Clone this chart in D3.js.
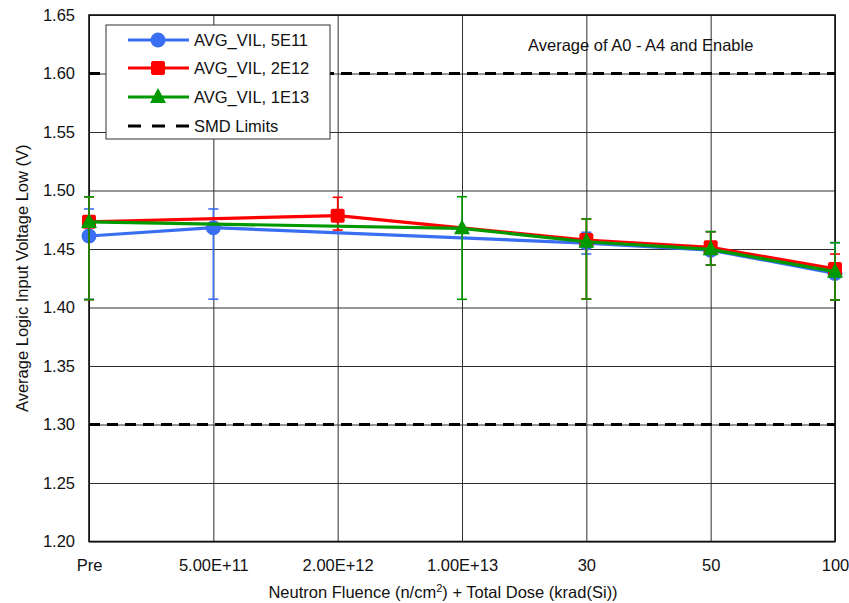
<!DOCTYPE html>
<html>
<head>
<meta charset="utf-8">
<script src="https://cdn.jsdelivr.net/npm/d3@7/dist/d3.min.js"></script>
<style>
  html, body { margin: 0; padding: 0; background: #fff; }
  svg { display: block; font-family: "Liberation Sans", Arial, sans-serif; }
</style>
</head>
<body>
<svg id="chart" width="849" height="603"></svg>
<script>
// Test points along the x axis
const categories = ["Pre", "5.00E+11", "2.00E+12", "1.00E+13", "30", "50", "100"];
const yTicks = [1.20, 1.25, 1.30, 1.35, 1.40, 1.45, 1.50, 1.55, 1.60, 1.65];
const smdLimits = [1.30, 1.60];

// Average VIL per fluence group (null = not measured at that point)
const vil5E11   = [1.4611, 1.4682, null, null, 1.4551, 1.4490, 1.4292];
const vil5E11Hi = [1.4842, 1.4842, null, null, 1.4643, 1.4648, 1.4554];
const vil5E11Lo = [1.4070, 1.4071, null, null, 1.4457, 1.4363, 1.4064];

const vil2E12   = [1.4733, null, 1.4785, null, 1.4577, 1.4515, 1.4330];
const vil2E12Hi = [1.4946, null, 1.4942, null, 1.4757, 1.4648, 1.4457];
const vil2E12Lo = [1.4067, null, 1.4662, null, 1.4072, 1.4363, 1.4064];

const vil1E13   = [1.4731, null, null, 1.4677, 1.4562, 1.4497, 1.4306];
const vil1E13Hi = [1.4946, null, null, 1.4947, 1.4757, 1.4648, 1.4554];
const vil1E13Lo = [1.4067, null, null, 1.4070, 1.4072, 1.4363, 1.4064];

const seriesNames = ["AVG_VIL, 5E11", "AVG_VIL, 2E12", "AVG_VIL, 1E13"];
const seriesColors = ["#3a6ef2", "#ff0000", "#009a00"];
const seriesShapes = ["circle", "square", "triangle"];

const series = [
  { name: seriesNames[0], color: seriesColors[0], shape: seriesShapes[0], v: vil5E11, hi: vil5E11Hi, lo: vil5E11Lo },
  { name: seriesNames[1], color: seriesColors[1], shape: seriesShapes[1], v: vil2E12, hi: vil2E12Hi, lo: vil2E12Lo },
  { name: seriesNames[2], color: seriesColors[2], shape: seriesShapes[2], v: vil1E13, hi: vil1E13Hi, lo: vil1E13Lo }
];

const FS = 16.5;
const svg = d3.select("#chart");
const plotLeft = 89, plotRight = 835, plotTop = 15, plotBottom = 541.5;
const plotW = plotRight - plotLeft, plotH = plotBottom - plotTop;

const x = d3.scalePoint().domain(categories).range([plotLeft, plotRight]);
const y = d3.scaleLinear().domain([1.20, 1.65]).range([plotBottom, plotTop]);

// Gridlines + tick labels
const yAxis = svg.append("g")
  .attr("transform", `translate(${plotLeft},0)`)
  .call(d3.axisLeft(y).tickValues(yTicks).tickFormat(d3.format(".2f"))
    .tickSize(-plotW).tickPadding(14));
yAxis.select(".domain").remove();
yAxis.selectAll(".tick line").attr("stroke", "#2e2e2e").attr("stroke-width", 1);
yAxis.selectAll(".tick text").attr("font-size", FS).attr("fill", "#111")
  .attr("font-family", "Liberation Sans, Arial, sans-serif");

const xAxis = svg.append("g")
  .attr("transform", `translate(0,${plotBottom})`)
  .call(d3.axisBottom(x).tickSize(-plotH).tickPadding(18));
xAxis.select(".domain").remove();
xAxis.selectAll(".tick line").attr("stroke", "#2e2e2e").attr("stroke-width", 1);
xAxis.selectAll(".tick text").attr("font-size", FS).attr("fill", "#111")
  .attr("font-family", "Liberation Sans, Arial, sans-serif");

// Plot frame
svg.append("rect")
  .attr("x", plotLeft).attr("y", plotTop).attr("width", plotW).attr("height", plotH)
  .attr("fill", "none").attr("stroke", "#111").attr("stroke-width", 1.6);

// SMD limit lines
svg.append("g").selectAll("line").data(smdLimits).join("line")
  .attr("x1", plotLeft).attr("x2", plotRight)
  .attr("y1", d => y(d)).attr("y2", d => y(d))
  .attr("stroke", "#000").attr("stroke-width", 3)
  .attr("stroke-dasharray", "11,7");

// Marker path generator
function markerPath(shape, cx, cy) {
  if (shape === "circle") {
    const p = d3.path(); p.arc(cx, cy, 7.5, 0, 2 * Math.PI); return p.toString();
  }
  if (shape === "square") {
    const s = 7, r = 2;
    return `M${cx - s + r},${cy - s}H${cx + s - r}Q${cx + s},${cy - s} ${cx + s},${cy - s + r}` +
      `V${cy + s - r}Q${cx + s},${cy + s} ${cx + s - r},${cy + s}H${cx - s + r}` +
      `Q${cx - s},${cy + s} ${cx - s},${cy + s - r}V${cy - s + r}Q${cx - s},${cy - s} ${cx - s + r},${cy - s}Z`;
  }
  // triangle
  return `M${cx},${cy - 9}L${cx + 8},${cy + 6}L${cx - 8},${cy + 6}Z`;
}

const line = d3.line().x(d => x(d.c)).y(d => y(d.v));

series.forEach(s => {
  const pts = categories.map((c, i) => ({ c, v: s.v[i], hi: s.hi[i], lo: s.lo[i] }))
    .filter(d => d.v !== null);
  const g = svg.append("g");
  g.append("path").datum(pts).attr("d", line)
    .attr("fill", "none").attr("stroke", s.color).attr("stroke-width", 3.2)
    .attr("stroke-linejoin", "round");
  // error bars
  const eb = g.append("g").attr("stroke", s.color).attr("stroke-width", 1.6);
  pts.forEach(d => {
    const cx = x(d.c);
    eb.append("line").attr("x1", cx).attr("x2", cx).attr("y1", y(d.hi)).attr("y2", y(d.lo));
    eb.append("line").attr("x1", cx - 5).attr("x2", cx + 5).attr("y1", y(d.hi)).attr("y2", y(d.hi));
    eb.append("line").attr("x1", cx - 5).attr("x2", cx + 5).attr("y1", y(d.lo)).attr("y2", y(d.lo));
  });
  g.selectAll(".mk").data(pts).join("path").attr("class", "mk")
    .attr("d", d => markerPath(s.shape, x(d.c), y(d.v)))
    .attr("fill", s.color);
});

// Annotation
svg.append("text").attr("x", 528).attr("y", 51)
  .attr("font-size", FS).attr("fill", "#111")
  .text("Average of A0 - A4 and Enable");

// Legend
const lg = svg.append("g");
lg.append("rect").attr("x", 106).attr("y", 25).attr("width", 224).attr("height", 114)
  .attr("fill", "#fff").attr("stroke", "#333").attr("stroke-width", 1);
const legendRows = [40, 68, 97, 126];
series.forEach((s, i) => {
  const ly = legendRows[i];
  lg.append("line").attr("x1", 128).attr("x2", 189).attr("y1", ly).attr("y2", ly)
    .attr("stroke", s.color).attr("stroke-width", 3.2);
  lg.append("path").attr("d", markerPath(s.shape, 158, ly)).attr("fill", s.color);
  lg.append("text").attr("x", 194).attr("y", ly).attr("dy", "0.35em")
    .attr("font-size", FS).attr("fill", "#111").text(s.name);
});
lg.append("line").attr("x1", 128).attr("x2", 189).attr("y1", legendRows[3]).attr("y2", legendRows[3])
  .attr("stroke", "#000").attr("stroke-width", 3).attr("stroke-dasharray", "13,11");
lg.append("text").attr("x", 194).attr("y", legendRows[3]).attr("dy", "0.35em")
  .attr("font-size", FS).attr("fill", "#111").text("SMD Limits");

// Axis titles
const xt = svg.append("text").attr("x", 443).attr("y", 598)
  .attr("text-anchor", "middle").attr("font-size", FS).attr("fill", "#111");
xt.append("tspan").text("Neutron Fluence (n/cm");
xt.append("tspan").attr("font-size", 11).attr("dy", -6).text("2");
xt.append("tspan").attr("dy", 6).text(") + Total Dose (krad(Si))");

svg.append("text")
  .attr("transform", `translate(28,${(plotTop + plotBottom) / 2}) rotate(-90)`)
  .attr("text-anchor", "middle").attr("font-size", FS).attr("fill", "#111")
  .text("Average Logic Input Voltage Low (V)");
</script>
</body>
</html>
